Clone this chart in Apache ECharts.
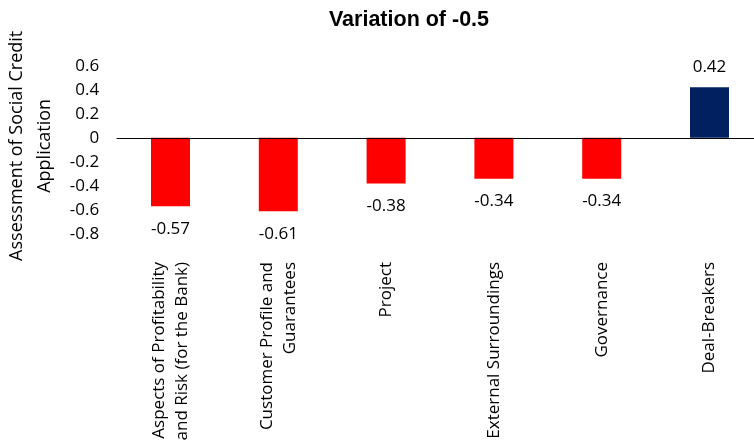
<!DOCTYPE html>
<html>
<head>
<meta charset="utf-8">
<script src="https://cdn.jsdelivr.net/npm/echarts@6/dist/echarts.min.js"></script>
<style>
  html, body { margin: 0; padding: 0; background: #fff; }
  #chart { width: 754px; height: 443px; }
</style>
</head>
<body>
<div id="chart"></div>
<script>
// Criteria and their effect on the credit assessment
const categories = [
  'Aspects of Profitability\nand Risk (for the Bank)',
  'Customer Profile and\nGuarantees',
  'Project',
  'External Surroundings',
  'Governance',
  'Deal-Breakers'
];
const values = [-0.57, -0.61, -0.38, -0.34, -0.34, 0.42];
const yTicks = { min: -0.8, max: 0.6, step: 0.2 };

const NEG_COLOR = '#FF0000';
const POS_COLOR = '#002060';
const FONT = '"Open Sans", "Noto Sans", sans-serif';

const chart = echarts.init(document.getElementById('chart'), null, { renderer: 'canvas' });

chart.setOption({
  animation: false,
  backgroundColor: '#fff',
  title: {
    text: 'Variation of -0.5',
    left: 404,
    top: 4,
    textAlign: 'center',
    textStyle: { fontFamily: '"Liberation Sans", Arial, sans-serif', fontWeight: 'bold', fontSize: 21.5, color: '#000' }
  },
  grid: {
    left: 116.6, top: 65.7, width: 646.8, height: 168.3,
    containLabel: false,
    outerBoundsMode: 'none'
  },
  xAxis: {
    type: 'category',
    data: categories,
    axisLine: { show: false },
    axisTick: { show: false },
    splitLine: { show: false },
    axisLabel: {
      rotate: 90,
      margin: 28,
      interval: 0,
      fontFamily: FONT,
      fontSize: 17,
      lineHeight: 23,
      color: '#000'
    }
  },
  yAxis: {
    type: 'value',
    min: yTicks.min,
    max: yTicks.max,
    interval: yTicks.step,
    name: 'Assessment of Social Credit\nApplication',
    nameLocation: 'middle',
    nameGap: 57,
    nameTextStyle: { fontFamily: FONT, fontSize: 18, lineHeight: 28, color: '#000', padding: [0, 0, 0, 8] },
    axisLine: { show: false },
    axisTick: { show: false },
    splitLine: { show: false },
    axisLabel: {
      margin: 17.5,
      fontFamily: FONT,
      fontSize: 17,
      color: '#000',
      formatter: v => String(+v.toFixed(1))
    }
  },
  series: [{
    type: 'bar',
    barWidth: 39,
    data: values.map(v => ({
      value: v,
      itemStyle: { color: v < 0 ? NEG_COLOR : POS_COLOR },
      label: { position: v < 0 ? 'bottom' : 'top', distance: v < 0 ? 14 : 12 }
    })),
    label: {
      show: true,
      fontFamily: FONT,
      fontSize: 17,
      color: '#000',
      formatter: p => p.value.toFixed(2)
    },
    markLine: {
      silent: true,
      symbol: 'none',
      label: { show: false },
      lineStyle: { color: '#000', width: 1.2, type: 'solid' },
      data: [{ yAxis: 0 }]
    }
  }]
});
</script>
</body>
</html>
